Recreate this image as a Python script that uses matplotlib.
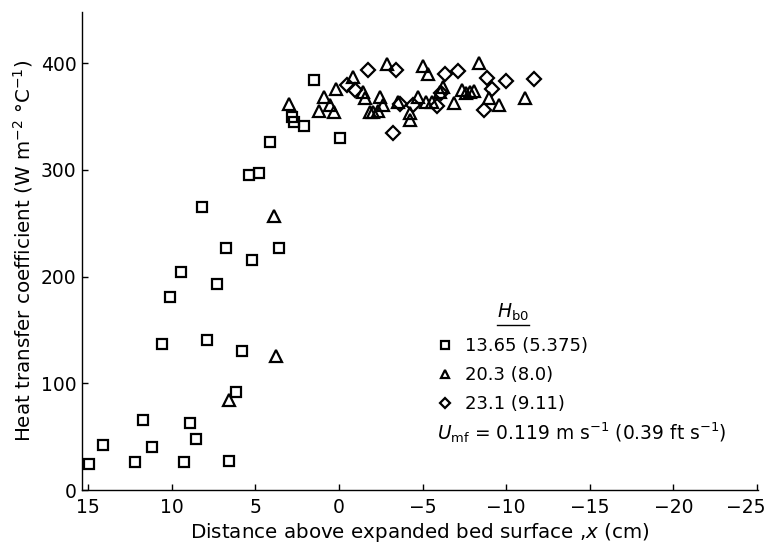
import matplotlib
matplotlib.use('Agg')
import matplotlib.pyplot as plt
from matplotlib.lines import Line2D
from matplotlib.transforms import ScaledTranslation

plt.rcParams['font.family'] = ['DejaVu Sans']
plt.rcParams['mathtext.fontset'] = 'dejavusans'

# Hb0 = 13.65 (5.375)
sq_x = [14.95, 14.1, 12.2, 11.7, 11.2, 10.6, 10.1, 9.46, 9.26, 8.9, 8.57, 8.17, 7.87, 7.3,
        6.77, 6.58, 6.17, 5.8, 5.4, 5.2, 4.78, 4.15, 3.6, 2.8, 2.7, 2.1, 1.52, -0.06]
sq_y = [24, 42, 26, 66, 40, 137, 181, 204, 26, 63, 48, 265, 141, 193,
        227, 27, 92, 130, 295, 216, 297, 326, 227, 350, 345, 341, 384, 330]

# Hb0 = 20.3 (8.0)
tri_x = [6.56, 3.78, 3.87, 2.97, 1.22, 0.92, 0.54, 0.32, 0.16, -0.86, -1.44, -1.58,
         -1.85, -2.05, -2.35, -2.45, -2.65, -2.87, -3.55, -4.25, -4.25, -4.7, -5.02,
         -5.2, -5.34, -5.58, -6.04, -6.2, -6.87, -7.34, -7.6, -7.86, -8.1, -8.39,
         -8.99, -9.57, -11.1]
tri_y = [84, 126, 257, 362, 355, 368, 361, 354, 376, 387, 373, 367,
         354, 354, 355, 368, 361, 399, 364, 353, 347, 368, 397,
         364, 390, 364, 373, 378, 363, 375, 372, 373, 374, 400,
         367, 361, 367]

# Hb0 = 23.1 (9.11)
dia_x = [-0.5, -0.96, -1.76, -3.25, -3.41, -3.65, -4.4, -5.84, -6.1, -6.34, -7.14,
         -8.7, -8.83, -9.13, -9.97, -11.66]
dia_y = [380, 375, 394, 335, 394, 362, 361, 360, 372, 390, 393,
         356, 386, 376, 383, 385]

labels = ['13.65 (5.375)', '20.3 (8.0)', '23.1 (9.11)']
x_ticks = [15, 10, 5, 0, -5, -10, -15, -20, -25]
y_ticks = [0, 100, 200, 300, 400]

fig = plt.figure(figsize=(7.67, 5.47), dpi=100)
ax = fig.add_axes([82 / 767, 57 / 547, 676 / 767, 478 / 547])

mk = dict(linestyle='none', markerfacecolor='none', markeredgecolor='k', markeredgewidth=1.6)
ax.plot(sq_x, sq_y, marker='s', markersize=7.8, **mk)
ax.plot(tri_x, tri_y, marker='^', markersize=8, **mk)
ax.plot(dia_x, dia_y, marker='D', markersize=7.3, **mk)

ax.set_xlim(15.37, -25.06)
ax.set_ylim(0, 448)
ax.set_xticks(x_ticks)
ax.set_yticks(y_ticks)
ax.spines['top'].set_visible(False)
ax.spines['right'].set_visible(False)
for s in ['left', 'bottom']:
    ax.spines[s].set_linewidth(1.0)
ax.tick_params(direction='in', length=4, width=1, labelsize=13.5)
ax.tick_params(axis='x', pad=6)
ax.tick_params(axis='y', pad=4)

# last x tick label sits at the right edge of the figure
last = ax.get_xticklabels()[-1]
last.set_ha('right')
last.set_transform(last.get_transform() + ScaledTranslation(9 / 100, 0, fig.dpi_scale_trans))

ax.set_xlabel('Distance above expanded bed surface ,$x$ (cm)', fontsize=14.3, labelpad=3)
ax.set_ylabel('Heat transfer coefficient (W m$^{-2}$ °C$^{-1}$)', fontsize=14.3, labelpad=4)

# legend
handles = [Line2D([], [], marker=m, markersize=5.5, **mk) for m in ['s', '^', 'D']]
ax.legend(handles, labels, loc='upper left', bbox_to_anchor=(436 / 767, 1 - 337 / 547),
          bbox_transform=fig.transFigure, frameon=False, fontsize=13, handlelength=1.0,
          handletextpad=0.6, labelspacing=0.62, borderpad=0, borderaxespad=0)

t = fig.text(513 / 767, 1 - 312 / 547, '$H_\\mathregular{b0}$', fontsize=13.5,
             ha='center', va='center')
fig.text(437 / 767, 1 - 433 / 547,
         '$U_\\mathregular{mf}$ = 0.119 m s$^{\\mathregular{-1}}$ (0.39 ft s$^{\\mathregular{-1}}$)',
         fontsize=13.4, ha='left', va='center')

# underline under H_b0
fig.canvas.draw()
bb = t.get_window_extent().transformed(fig.transFigure.inverted())
fig.add_artist(Line2D([bb.x0, bb.x1], [bb.y0 - 0.004, bb.y0 - 0.004], color='k', lw=1,
                      transform=fig.transFigure))

fig.savefig('out.png', dpi=100)
